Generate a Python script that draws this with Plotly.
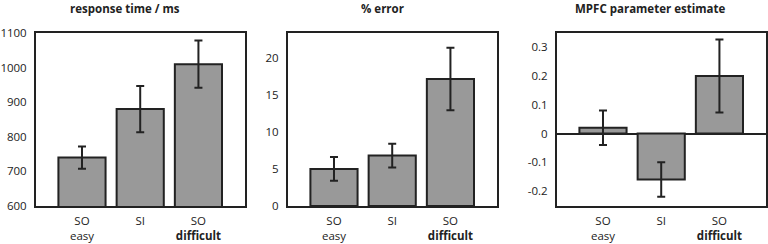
import plotly.graph_objects as go

categories = ["SO<br>easy", "SI", "SO<br><b>difficult</b>"]
cat_pos = [0, 1, 2]

rt_values = [740, 880, 1010]
rt_err = [32, 67, 68]

err_values = [5.0, 6.8, 17.1]
err_err = [1.6, 1.6, 4.2]

mpfc_values = [0.02, -0.16, 0.20]
mpfc_err = [0.06, 0.06, 0.127]

titles = ["response time / ms", "% error", "MPFC parameter estimate"]

rt_ticks = [600, 700, 800, 900, 1000, 1100]
err_ticks = [0, 5, 10, 15, 20]
mpfc_ticks = [-0.2, -0.1, 0, 0.1, 0.2, 0.3]
mpfc_ticktext = ["-0.2", "-0.1", "0", "0.1", "0.2", "0.3"]

W, H = 768, 244
DARK = "#222222"
FONT = "Open Sans"

fig = go.Figure()

panels = [
    (rt_values, rt_err, "x", "y"),
    (err_values, err_err, "x2", "y2"),
    (mpfc_values, mpfc_err, "x3", "y3"),
]
for vals, errs, xa, ya in panels:
    fig.add_trace(go.Bar(
        x=cat_pos, y=vals, xaxis=xa, yaxis=ya, width=0.81,
        marker=dict(color="#999999", line=dict(color=DARK, width=2)),
        error_y=dict(type="data", array=errs, visible=True, color=DARK,
                     thickness=2, width=4),
        showlegend=False, hoverinfo="skip",
    ))

def px(v):
    return v / W

ydom = [(H - 206) / H, (H - 33) / H]
xdoms = [[px(36), px(245)], [px(288), px(497)], [px(557), px(766)]]

common_x = dict(
    tickvals=cat_pos, ticktext=categories, range=[-0.79, 2.8],
    showline=True, mirror=True, linecolor=DARK, linewidth=2,
    ticks="", showgrid=False, zeroline=False, automargin=False,
    tickfont=dict(family=FONT, size=11.5, color=DARK),
    ticklabelstandoff=3,
)
common_y = dict(
    showline=True, mirror=True, linecolor=DARK, linewidth=2,
    ticks="", showgrid=False, automargin=False,
    tickfont=dict(family=FONT, size=11.5, color=DARK),
    ticklabelstandoff=5,
)

fig.update_layout(
    width=W, height=H,
    margin=dict(l=0, r=0, t=0, b=0),
    paper_bgcolor="white", plot_bgcolor="white",
    xaxis=dict(domain=xdoms[0], anchor="y", **common_x),
    xaxis2=dict(domain=xdoms[1], anchor="y2", **common_x),
    xaxis3=dict(domain=xdoms[2], anchor="y3", **common_x),
    yaxis=dict(domain=ydom, anchor="x", range=[600, 1100], tickvals=rt_ticks,
               zeroline=False, **common_y),
    yaxis2=dict(domain=ydom, anchor="x2", range=[0, 23.3], tickvals=err_ticks,
                zeroline=False, **common_y),
    yaxis3=dict(domain=ydom, anchor="x3", range=[-0.252, 0.35], tickvals=mpfc_ticks,
                ticktext=mpfc_ticktext, zeroline=True, zerolinecolor=DARK,
                zerolinewidth=2, **common_y),
)

title_x = [125, 382, 650]
for t, tx in zip(titles, title_x):
    fig.add_annotation(
        text=f"<b>{t}</b>", x=px(tx), y=(H - 8) / H, xref="paper", yref="paper",
        showarrow=False, xanchor="center", yanchor="middle",
        font=dict(family=FONT, size=11.5, color=DARK),
    )

fig.write_html(
    "out.html",
    config={"displayModeBar": False},
    post_script="document.body.style.margin='0';document.body.style.overflow='hidden';",
)
